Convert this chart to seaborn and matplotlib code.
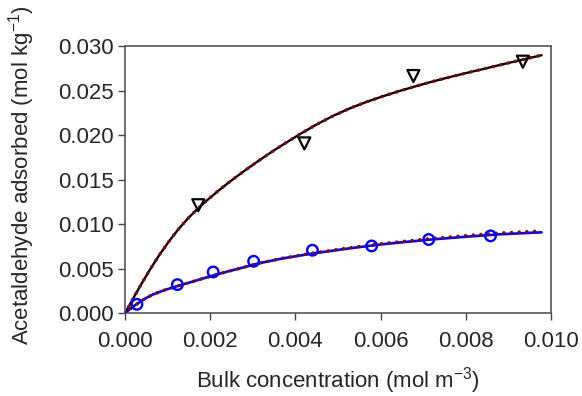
import matplotlib
matplotlib.use("Agg")
import matplotlib.pyplot as plt
import seaborn as sns

# Measured data points
tri_x = [0.00172, 0.00421, 0.00677, 0.00934]
tri_y = [0.01213, 0.01907, 0.02663, 0.02824]
circ_x = [0.00028, 0.00123, 0.00207, 0.00302, 0.00440, 0.00579, 0.00713, 0.00858]
circ_y = [0.00101, 0.00322, 0.00464, 0.00584, 0.00708, 0.00756, 0.00828, 0.00869]

# Fitted curves
fit_hi_x = [0.0, 0.000195, 0.00039, 0.000603, 0.00082, 0.00106, 0.00125, 0.00149,
            0.00172, 0.00196, 0.00223, 0.0025, 0.00278, 0.00313, 0.00342,
            0.00371, 0.00411, 0.0045, 0.00489, 0.00528, 0.00567, 0.00606, 0.00645,
            0.00685, 0.00723, 0.00763, 0.00802, 0.00841, 0.0088, 0.00927, 0.00978]
fit_hi_y = [0.0, 0.0017, 0.00334, 0.00504, 0.00665, 0.00826, 0.00942, 0.01072,
            0.0118, 0.01283, 0.01391, 0.01492, 0.01591, 0.0171, 0.01804,
            0.01894, 0.02012, 0.0212, 0.02217, 0.02301, 0.02373, 0.02437, 0.02496,
            0.02552, 0.02603, 0.02652, 0.02698, 0.02742, 0.02787, 0.0284, 0.02897]
fit_lo_x = [0.0, 0.00016, 0.00030, 0.00047, 0.00066, 0.00094, 0.00121, 0.00153,
            0.00184, 0.00207, 0.00239, 0.00278, 0.00313, 0.00371, 0.00442, 0.00528,
            0.00606, 0.00665, 0.00723, 0.00802, 0.0088, 0.00978]
fit_lo_y = [0.0, 0.00065, 0.00112, 0.00165, 0.00212, 0.00263, 0.00303, 0.00348,
            0.00392, 0.00425, 0.00467, 0.00515, 0.00560, 0.00617, 0.00673, 0.0073,
            0.00776, 0.00804, 0.0083, 0.0086, 0.00887, 0.00909]
fit_lo2_y = [0.0, 0.00065, 0.00112, 0.00165, 0.00212, 0.00263, 0.00303, 0.00348,
             0.00392, 0.00425, 0.00467, 0.00515, 0.00561, 0.00619, 0.00677, 0.00736,
             0.00784, 0.00813, 0.00841, 0.00873, 0.00901, 0.00924]

sns.set_style("ticks")
plt.rcParams['font.family'] = ['Liberation Sans', 'DejaVu Sans']

fig = plt.figure(figsize=(5.82, 3.96), dpi=100)
ax = fig.add_axes([0.2148, 0.2088, 0.7319, 0.675])

sns.lineplot(x=fit_hi_x, y=fit_hi_y, ax=ax, color='black', lw=1.7, sort=False, zorder=2)
sns.lineplot(x=fit_lo_x, y=fit_lo_y, ax=ax, color='#0000ff', lw=1.9, sort=False, zorder=2)

def red_dotted(xs, ys):
    sns.lineplot(x=xs, y=ys, ax=ax, color='#8b0000', lw=2.5, sort=False, zorder=3)
    ln = ax.lines[-1]
    ln.set_dashes([0.01, 2.2])
    ln.set_dash_capstyle('round')

red_dotted(fit_hi_x, fit_hi_y)
red_dotted(fit_lo_x, fit_lo2_y)

ax.scatter(tri_x, tri_y, marker='v', s=75, facecolors='none', edgecolors='black',
           linewidths=1.6, zorder=4)
ax.scatter(circ_x, circ_y, marker='o', s=58, facecolors='none', edgecolors='#0000ff',
           linewidths=1.7, zorder=4)

ax.set_xlim(0, 0.010)
ax.set_ylim(0, 0.030)
ax.set_xticks([0.000, 0.002, 0.004, 0.006, 0.008, 0.010])
ax.set_xticklabels(['0.000', '0.002', '0.004', '0.006', '0.008', '0.010'])
ax.set_yticks([0.000, 0.005, 0.010, 0.015, 0.020, 0.025, 0.030])
ax.set_yticklabels(['0.000', '0.005', '0.010', '0.015', '0.020', '0.025', '0.030'])
ax.tick_params(axis='both', direction='out', length=5, width=1, labelsize=16,
               color='#444444')
ax.tick_params(axis='y', pad=3)
ax.tick_params(axis='x', pad=8)
for s in ax.spines.values():
    s.set_visible(True)
    s.set_color('#555555')
    s.set_linewidth(1.2)

ax.set_xlabel('Bulk concentration (mol m$^{\\mathregular{-3}}$)', fontsize=16, labelpad=9)
ax.set_ylabel('Acetaldehyde adsorbed (mol kg$^{\\mathregular{-1}}$)', fontsize=16)
ax.yaxis.set_label_coords(-0.2066, 0.515)

fig.savefig('out.png', dpi=100)
